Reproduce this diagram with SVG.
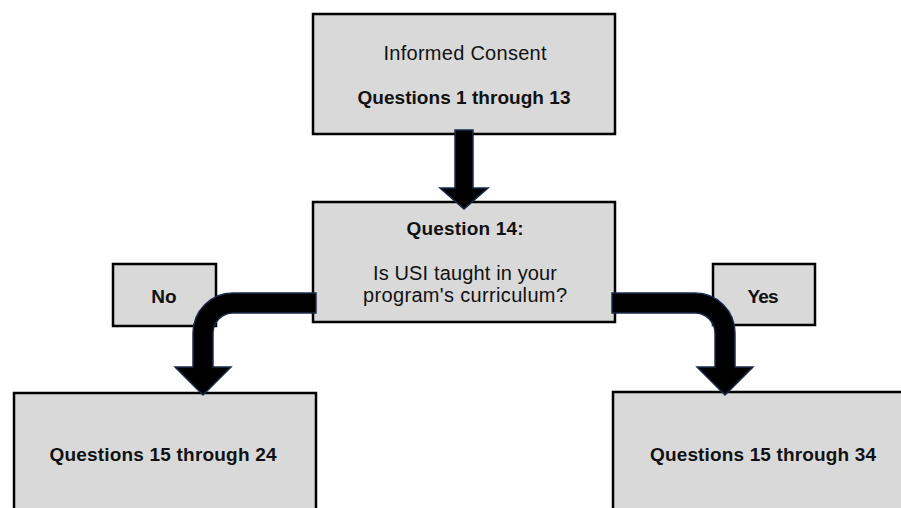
<svg xmlns="http://www.w3.org/2000/svg" width="901" height="508" viewBox="0 0 901 508">
<style>
.box{fill:#d9d9d9;stroke:#000;stroke-width:2.5}
.t{font-family:"Liberation Sans",Arial,sans-serif;fill:#111;text-anchor:middle}
.r{font-size:20px}
.b{font-size:19px;font-weight:bold}
.arr{fill:#000;stroke:#1c2a4a;stroke-width:1.5;stroke-linejoin:miter}
</style>
<rect width="901" height="508" fill="#fff"/>
<g id="consent">
<rect class="box" x="313" y="14" width="302" height="120"/>
<text class="t r" x="465" y="60" textLength="163">Informed Consent</text>
<text class="t b" x="464" y="104" textLength="213">Questions 1 through 13</text>
</g>
<g id="q14">
<rect class="box" x="313" y="202" width="302" height="120"/>
<text class="t b" x="465" y="235" textLength="117">Question 14:</text>
<text class="t r" x="465" y="280" textLength="184">Is USI taught in your</text>
<text class="t r" x="465" y="302" textLength="204">program's curriculum?</text>
</g>
<g id="no">
<rect class="box" x="113" y="264" width="103" height="62"/>
<text class="t b" x="164" y="303">No</text>
</g>
<g id="yes">
<rect class="box" x="713" y="264" width="102" height="61"/>
<text class="t b" x="763" y="303" textLength="31">Yes</text>
</g>
<g id="q15-24">
<rect class="box" x="14" y="393" width="302" height="130"/>
<text class="t b" x="163" y="461" textLength="227">Questions 15 through 24</text>
</g>
<g id="q15-34">
<rect class="box" x="613" y="392" width="300" height="130"/>
<text class="t b" x="763" y="461" textLength="226">Questions 15 through 34</text>
</g>
<g id="connectors">
<path class="arr" d="M455,130 L473,130 L473,188 L488,188 L464,209 L440,188 L455,188 Z"/>
<path class="arr" d="M316,293 L233,293 A40,40 0 0 0 193,333 L193,367 L175,367 L203,395 L231,367 L213,367 L213,333 A20,20 0 0 1 233,313 L316,313 Z"/>
<path class="arr" d="M612,293 L695,293 A40,40 0 0 1 735,333 L735,367 L753,367 L725,395 L697,367 L715,367 L715,333 A20,20 0 0 0 695,313 L612,313 Z"/>
</g>
</svg>
